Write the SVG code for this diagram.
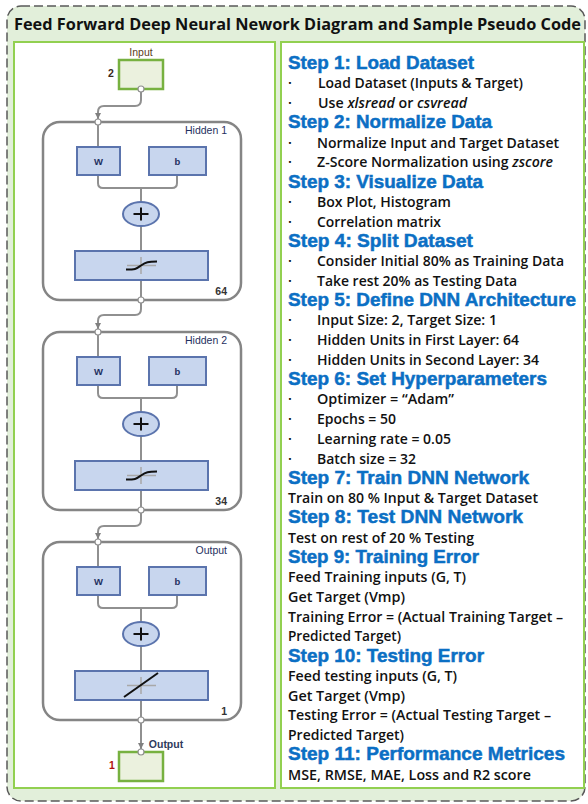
<svg xmlns="http://www.w3.org/2000/svg" width="588" height="804" viewBox="0 0 588 804">
<style>
.outer{fill:#e2efda;stroke:#595959;stroke-width:1.5;stroke-dasharray:9 4}
.panel{fill:#fff;stroke:#92d050;stroke-width:2}
.title{font-family:"Open Sans","Liberation Sans",sans-serif;font-weight:bold;font-size:16.5px;fill:#111}
.h{font-family:"Liberation Sans",Arial,sans-serif;font-weight:bold;font-size:18.8px;fill:#0b6fc4;stroke:#0b6fc4;stroke-width:0.5}
.t{font-family:"Open Sans","Liberation Sans",sans-serif;font-weight:600;font-size:14px;fill:#111}
.layer{fill:#fff;stroke:#858585;stroke-width:2.5}
.wb{fill:#c8d6ee;stroke:#5b74ad;stroke-width:2}
.io{fill:#ebf1de;stroke:#77b140;stroke-width:2.5}
.wire{fill:none;stroke:#909090;stroke-width:2}
.port{fill:#fff;stroke:#909090;stroke-width:1.2}
.lbl{font-family:"Liberation Sans",Arial,sans-serif;font-size:10.5px;fill:#1f3060}
.wl{font-family:"Liberation Sans",Arial,sans-serif;font-size:9.5px;font-weight:bold;fill:#1f3060}
.cross{fill:none;stroke:#a8a8a8;stroke-width:1.5}
.fn{fill:none;stroke:#111;stroke-width:2}
</style>
<defs>
<marker id="arr" viewBox="0 0 10 10" refX="10" refY="5" markerWidth="6" markerHeight="6" markerUnits="userSpaceOnUse" orient="auto"><path d="M0,0 L10,5 L0,10 z" fill="#808080"/></marker>
</defs>

<rect class="outer" x="7" y="6" width="578" height="795" rx="14"/>
<text class="title" x="14" y="30" textLength="567" lengthAdjust="spacingAndGlyphs">Feed Forward Deep Neural Nework Diagram and Sample Pseudo Code</text>
<rect class="panel" x="14" y="42" width="261" height="746"/>
<rect class="panel" x="281" y="42" width="303" height="746"/>

<g id="connectors">
<path class="wire" marker-end="url(#arr)" d="M141,89 V100 Q141,106 135,106 H104 Q98,106 98,112 V119"/>
<path class="wire" marker-end="url(#arr)" d="M141,300 V309 Q141,315 135,315 H104 Q98,315 98,321 V329"/>
<path class="wire" marker-end="url(#arr)" d="M141,510 V520 Q141,526 135,526 H104 Q98,526 98,532 V539"/>
<path class="wire" marker-end="url(#arr)" d="M141,720 V749"/>
</g>

<g id="input">
<text class="lbl" x="141" y="56" text-anchor="middle" style="fill:#5a3d20">Input</text>
<text class="lbl" x="111" y="77" text-anchor="middle" style="fill:#3a2a20;font-weight:bold">2</text>
<rect class="io" x="119" y="60" width="44" height="29"/>
<circle class="port" cx="141" cy="89" r="3"/>
</g>

<g id="hidden1">
<rect class="layer" x="43" y="122" width="198" height="178" rx="17"/>
<text class="lbl" x="227" y="134" text-anchor="end">Hidden 1</text>
<path class="wire" d="M98,122 V147 M98,175 V183 Q98,188 103,188 H172 Q177,188 177,183 V175 M141,188 V202 M141,226 V251 M141,280 V300"/>
<rect class="wb" x="77" y="147" width="43" height="28"/>
<text class="wl" x="98.5" y="164.5" text-anchor="middle">W</text>
<rect class="wb" x="149" y="147" width="57" height="28"/>
<text class="wl" x="177.5" y="164.5" text-anchor="middle">b</text>
<ellipse class="wb" cx="141" cy="214" rx="18" ry="12"/>
<path class="fn" d="M133.5,214 H148.5 M141,207.5 V220.5"/>
<rect class="wb" x="75" y="251" width="133" height="29"/>
<path class="cross" d="M127,265.5 H156 M141,257 V274"/>
<path class="fn" d="M126,269.5 C136,269.5 136,269 141,265.5 S148,261.5 157,261.5"/>
<circle class="port" cx="98" cy="122" r="3"/>
<circle class="port" cx="141" cy="300" r="3"/>
<text class="lbl" x="227" y="295" text-anchor="end" style="fill:#333;font-weight:bold">64</text>
</g>

<g id="hidden2" transform="translate(0,210)">
<rect class="layer" x="43" y="122" width="198" height="178" rx="17"/>
<text class="lbl" x="227" y="134" text-anchor="end">Hidden 2</text>
<path class="wire" d="M98,122 V147 M98,175 V183 Q98,188 103,188 H172 Q177,188 177,183 V175 M141,188 V202 M141,226 V251 M141,280 V300"/>
<rect class="wb" x="77" y="147" width="43" height="28"/>
<text class="wl" x="98.5" y="164.5" text-anchor="middle">W</text>
<rect class="wb" x="149" y="147" width="57" height="28"/>
<text class="wl" x="177.5" y="164.5" text-anchor="middle">b</text>
<ellipse class="wb" cx="141" cy="214" rx="18" ry="12"/>
<path class="fn" d="M133.5,214 H148.5 M141,207.5 V220.5"/>
<rect class="wb" x="75" y="251" width="133" height="29"/>
<path class="cross" d="M127,265.5 H156 M141,257 V274"/>
<path class="fn" d="M126,269.5 C136,269.5 136,269 141,265.5 S148,261.5 157,261.5"/>
<circle class="port" cx="98" cy="122" r="3"/>
<circle class="port" cx="141" cy="300" r="3"/>
<text class="lbl" x="227" y="295" text-anchor="end" style="fill:#333;font-weight:bold">34</text>
</g>

<g id="outputLayer" transform="translate(0,420)">
<rect class="layer" x="43" y="122" width="198" height="178" rx="17"/>
<text class="lbl" x="227" y="134" text-anchor="end">Output</text>
<path class="wire" d="M98,122 V147 M98,175 V183 Q98,188 103,188 H172 Q177,188 177,183 V175 M141,188 V202 M141,226 V251 M141,280 V300"/>
<rect class="wb" x="77" y="147" width="43" height="28"/>
<text class="wl" x="98.5" y="164.5" text-anchor="middle">W</text>
<rect class="wb" x="149" y="147" width="57" height="28"/>
<text class="wl" x="177.5" y="164.5" text-anchor="middle">b</text>
<ellipse class="wb" cx="141" cy="214" rx="18" ry="12"/>
<path class="fn" d="M133.5,214 H148.5 M141,207.5 V220.5"/>
<rect class="wb" x="75" y="251" width="133" height="29"/>
<path class="cross" d="M127,265.5 H156 M141,257 V274"/>
<path class="fn" d="M124,277 L158,253"/>
<circle class="port" cx="98" cy="122" r="3"/>
<circle class="port" cx="141" cy="300" r="3"/>
<text class="lbl" x="227" y="295" text-anchor="end" style="fill:#333;font-weight:bold">1</text>
</g>

<g id="output">
<text class="lbl" x="166" y="748" text-anchor="middle" style="font-weight:bold;fill:#2f3b5c">Output</text>
<text class="lbl" x="112" y="769" text-anchor="middle" style="fill:#b01010;font-weight:bold">1</text>
<rect class="io" x="119" y="752" width="44" height="29"/>
<circle class="port" cx="141" cy="752" r="3"/>
</g>

<g id="pseudocode">
<text class="h" x="288" y="69" textLength="186" lengthAdjust="spacingAndGlyphs">Step 1: Load Dataset</text>
<text class="t" x="288" y="88.3">·</text><text class="t" x="318" y="88.3" textLength="205" lengthAdjust="spacingAndGlyphs">Load Dataset (Inputs &amp; Target)</text>
<text class="t" x="288" y="108">·</text><text class="t" x="318" y="108" textLength="149" lengthAdjust="spacingAndGlyphs">Use <tspan font-style="italic">xlsread</tspan> or <tspan font-style="italic">csvread</tspan></text>
<text class="h" x="288" y="128.3" textLength="204" lengthAdjust="spacingAndGlyphs">Step 2: Normalize Data</text>
<text class="t" x="288" y="147.5">·</text><text class="t" x="317" y="147.5" textLength="242" lengthAdjust="spacingAndGlyphs">Normalize Input and Target Dataset</text>
<text class="t" x="288" y="167.3">·</text><text class="t" x="317" y="167.3" textLength="236" lengthAdjust="spacingAndGlyphs">Z-Score Normalization using <tspan font-style="italic">zscore</tspan></text>
<text class="h" x="288" y="187.5" textLength="195" lengthAdjust="spacingAndGlyphs">Step 3: Visualize Data</text>
<text class="t" x="288" y="206.8">·</text><text class="t" x="317" y="206.8" textLength="134" lengthAdjust="spacingAndGlyphs">Box Plot, Histogram</text>
<text class="t" x="288" y="226.5">·</text><text class="t" x="317" y="226.5" textLength="124" lengthAdjust="spacingAndGlyphs">Correlation matrix</text>
<text class="h" x="288" y="246.8" textLength="185" lengthAdjust="spacingAndGlyphs">Step 4: Split Dataset</text>
<text class="t" x="288" y="266">·</text><text class="t" x="317" y="266" textLength="247" lengthAdjust="spacingAndGlyphs">Consider Initial 80% as Training Data</text>
<text class="t" x="288" y="285.8">·</text><text class="t" x="317" y="285.8" textLength="200" lengthAdjust="spacingAndGlyphs">Take rest 20% as Testing Data</text>
<text class="h" x="288" y="306" textLength="288" lengthAdjust="spacingAndGlyphs">Step 5: Define DNN Architecture</text>
<text class="t" x="288" y="325.3">·</text><text class="t" x="317" y="325.3" textLength="180" lengthAdjust="spacingAndGlyphs">Input Size: 2, Target Size: 1</text>
<text class="t" x="288" y="345">·</text><text class="t" x="317" y="345" textLength="202" lengthAdjust="spacingAndGlyphs">Hidden Units in First Layer: 64</text>
<text class="t" x="288" y="364.8">·</text><text class="t" x="317" y="364.8" textLength="222" lengthAdjust="spacingAndGlyphs">Hidden Units in Second Layer: 34</text>
<text class="h" x="288" y="385" textLength="259" lengthAdjust="spacingAndGlyphs">Step 6: Set Hyperparameters</text>
<text class="t" x="288" y="404.3">·</text><text class="t" x="317" y="404.3" textLength="137" lengthAdjust="spacingAndGlyphs">Optimizer = “Adam”</text>
<text class="t" x="288" y="424">·</text><text class="t" x="317" y="424" textLength="79" lengthAdjust="spacingAndGlyphs">Epochs = 50</text>
<text class="t" x="288" y="443.8">·</text><text class="t" x="317" y="443.8" textLength="134" lengthAdjust="spacingAndGlyphs">Learning rate = 0.05</text>
<text class="t" x="288" y="463.5">·</text><text class="t" x="317" y="463.5" textLength="99" lengthAdjust="spacingAndGlyphs">Batch size = 32</text>
<text class="h" x="288" y="483.8" textLength="241" lengthAdjust="spacingAndGlyphs">Step 7: Train DNN Network</text>
<text class="t" x="288" y="503" textLength="250" lengthAdjust="spacingAndGlyphs">Train on 80 % Input &amp; Target Dataset</text>
<text class="h" x="288" y="523.3" textLength="235" lengthAdjust="spacingAndGlyphs">Step 8: Test DNN Network</text>
<text class="t" x="288" y="542.5" textLength="186" lengthAdjust="spacingAndGlyphs">Test on rest of 20 % Testing</text>
<text class="h" x="288" y="562.8" textLength="191" lengthAdjust="spacingAndGlyphs">Step 9: Training Error</text>
<text class="t" x="288" y="582" textLength="178" lengthAdjust="spacingAndGlyphs">Feed Training inputs (G, T)</text>
<text class="t" x="288" y="601.8" textLength="117" lengthAdjust="spacingAndGlyphs">Get Target (Vmp)</text>
<text class="t" x="288" y="621.5" textLength="275" lengthAdjust="spacingAndGlyphs">Training Error = (Actual Training Target –</text>
<text class="t" x="288" y="641.3" textLength="113" lengthAdjust="spacingAndGlyphs">Predicted Target)</text>
<text class="h" x="288" y="661.5" textLength="196" lengthAdjust="spacingAndGlyphs">Step 10: Testing Error</text>
<text class="t" x="288" y="680.8" textLength="169" lengthAdjust="spacingAndGlyphs">Feed testing inputs (G, T)</text>
<text class="t" x="288" y="700.5" textLength="117" lengthAdjust="spacingAndGlyphs">Get Target (Vmp)</text>
<text class="t" x="288" y="720.3" textLength="263" lengthAdjust="spacingAndGlyphs">Testing Error = (Actual Testing Target –</text>
<text class="t" x="288" y="740" textLength="116" lengthAdjust="spacingAndGlyphs">Predicted Target)</text>
<text class="h" x="288" y="760.3" textLength="277" lengthAdjust="spacingAndGlyphs">Step 11: Performance Metrices</text>
<text class="t" x="288" y="779.5" textLength="243" lengthAdjust="spacingAndGlyphs">MSE, RMSE, MAE, Loss and R2 score</text>
</g>
</svg>
